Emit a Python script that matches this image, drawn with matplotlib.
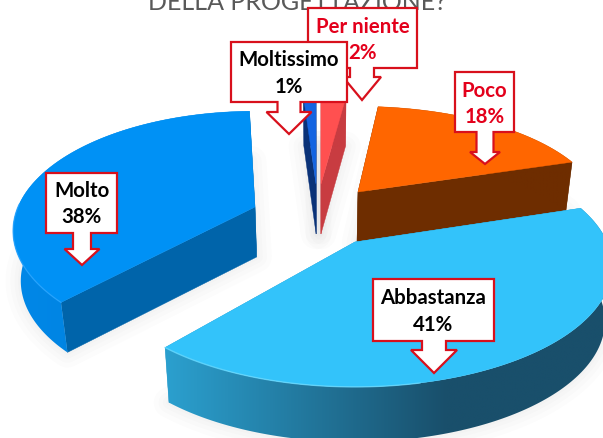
import numpy as np
import matplotlib
matplotlib.use('Agg')
import matplotlib.pyplot as plt
from matplotlib.colors import to_rgb
from matplotlib.patches import Polygon

# Dati del grafico (in senso orario dall'alto)
labels = ['Per niente', 'Poco', 'Abbastanza', 'Molto', 'Moltissimo']
values = [2, 18, 41, 38, 1]

# Colori: faccia superiore, lato radiale, parete esterna (destra, sinistra)
top_colors = ['#ff5050', '#ff6600', '#33c3fa', '#0091f5', '#1464e1']
side_colors = ['#c83c41', '#6e2d00', '#2a9ccc', '#0064aa', '#0a3278']
wall_right = ['#c83c41', '#6e2d00', '#194f6b', '#007fdc', '#0a3278']
wall_left = ['#c83c41', '#6e2d00', '#2ba0cf', '#0088e8', '#0a3278']
text_colors = ['#e3001b', '#e3001b', 'black', 'black', 'black']

# Geometria di ogni fetta in pixel: apice, raggio, schiacciamento
apex_x = [321, 358, 355, 255, 316]
apex_y = [185, 193, 243, 208, 185]
radius = [240, 239, 252, 237, 240]
squash = [0.44, 0.43, 0.46, 0.485, 0.44]
depth = [50, 50, 55, 50, 50]
# ritocco degli angoli in gradi (inizio, fine) per la prospettiva del riferimento
trim_start = [0, -1.4, 0, 5.0, 0]
trim_end = [0, 0, 0, 2.0, 0]
PERSP = 0.2
VANISH_X = 320
INSET = 0.975

# Callout: x0, x1, y0, y1, mezzo gambo, mezza testa, y testa, y punta, x punta
callouts = [
    (308, 417, 9, 69, 12, 19, 78, 101, 362),
    (455, 514, 73, 133, 8.5, 15, 153, 165, 485),
    (373, 494, 280, 342, 12, 23, 351, 374, 434),
    (46, 117, 174, 234, 9, 17.5, 250, 266, 82),
    (231, 347, 43, 103, 11.5, 22.5, 113, 135, 289),
]
text_y = [(27, 53), (91, 117), (298, 325), (191, 217), (60, 87)]


def project(i, theta):
    u, v = np.sin(theta), np.cos(theta)
    w = 1 + PERSP * v
    return (apex_x[i] + radius[i] * u / w,
            apex_y[i] - radius[i] * squash[i] * v / w)


def drop(i, x, y):
    # punto in basso della parete, con un leggero rientro prospettico
    return VANISH_X + (x - VANISH_X) * INSET, y + depth[i]


def draw_wall(ax, i, xs, ys, xb, yb, z):
    outline = list(zip(xs, ys)) + list(zip(xb[::-1], yb[::-1]))
    poly = Polygon(outline, fc='none', ec='none', zorder=z)
    ax.add_patch(poly)
    # sfumatura orizzontale: scura a destra fino al 37%, poi lineare
    x0, x1 = min(xs.min(), xb.min()), max(xs.max(), xb.max())
    f = np.clip(np.linspace(0, 1, 256) / 0.63, 0, 1)
    c_l, c_r = np.array(to_rgb(wall_left[i])), np.array(to_rgb(wall_right[i]))
    grad = c_l + (c_r - c_l) * f[:, None]
    im = ax.imshow(grad[None, :, :], extent=(x0, x1, yb.max(), ys.min()),
                   aspect='auto', zorder=z, interpolation='bilinear')
    im.set_clip_path(poly)


def draw_slice(ax, i, t0, t1):
    theta = np.linspace(t0, t1, 160)
    xs, ys = project(i, theta)
    xb, yb = drop(i, xs, ys)
    ax0, ay0 = apex_x[i], apex_y[i]
    bx0, by0 = drop(i, ax0, ay0)
    z = 2 + i * 0.01

    # ombra morbida attorno alla base
    base = list(zip(xb, yb)) + [(bx0, by0)]
    for lw in (22, 15, 9, 4):
        ax.add_patch(Polygon(base, fc='none', ec='black', alpha=0.012, lw=lw,
                             joinstyle='round', zorder=1.5))

    # lati radiali
    for k in (0, -1):
        ax.add_patch(Polygon([(ax0, ay0), (xs[k], ys[k]), (xb[k], yb[k]), (bx0, by0)],
                             fc=side_colors[i], ec=side_colors[i], lw=0.3, zorder=z))
    draw_wall(ax, i, xs, ys, xb, yb, z)
    # faccia superiore
    top = [(ax0, ay0)] + list(zip(xs, ys))
    ax.add_patch(Polygon(top, fc=top_colors[i], ec=top_colors[i], lw=0.3, zorder=z))


def draw_callout(ax, box, lab, val, color, ty):
    x0, x1, y0, y1, stem, head, yh, ytip, xt = box
    pts = [(x0, y0), (x1, y0), (x1, y1), (xt + stem, y1), (xt + stem, yh),
           (xt + head, yh), (xt, ytip), (xt - head, yh), (xt - stem, yh),
           (xt - stem, y1), (x0, y1)]
    ax.add_patch(Polygon(pts, fc='white', ec='#d8101c', lw=1.6, joinstyle='miter', zorder=10))
    ax.text((x0 + x1) / 2, ty[0], lab, ha='center', va='center', fontsize=14.7,
            fontweight='bold', family='Lato', color=color, zorder=11)
    ax.text((x0 + x1) / 2, ty[1], f'{val}%', ha='center', va='center', fontsize=14.7,
            fontweight='bold', family='Lato', color=color, zorder=11)


fig = plt.figure(figsize=(6.03, 4.39), dpi=100)
ax = fig.add_axes([0, 0, 1, 1])

ax.text(297, 2.5, 'DELLA PROGETTAZIONE?', ha='center', va='center', fontsize=18,
        family='Lato', color='#595959', zorder=1)

# angoli cumulati dai valori
edges = np.cumsum([0] + values) / sum(values) * 2 * np.pi
for i in [0, 4, 1, 3, 2]:
    draw_slice(ax, i, edges[i] + np.radians(trim_start[i]), edges[i + 1] + np.radians(trim_end[i]))

# riflesso chiaro sul bordo anteriore delle fette azzurre
theta = np.linspace(edges[3], edges[3] - 0.9, 50)
hx, hy = project(2, theta)
ax.plot(hx, hy, color='#6fdcff', lw=1.0, alpha=0.7, zorder=3)
theta = np.linspace(edges[3] + np.radians(trim_start[3]), edges[3] + 0.9, 50)
hx, hy = project(3, theta)
ax.plot(hx, hy, color='#2ba5ff', lw=1.0, alpha=0.7, zorder=3)

for i in range(len(labels)):
    draw_callout(ax, callouts[i], labels[i], values[i], text_colors[i], text_y[i])

ax.set_xlim(0, 603)
ax.set_ylim(439, 0)
ax.axis('off')

fig.savefig('out.png', dpi=100)
